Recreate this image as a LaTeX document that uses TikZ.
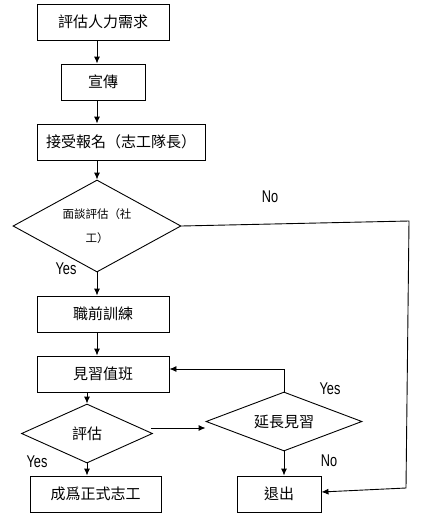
\documentclass[tikz,border=0pt]{standalone}
\usepackage{fontspec}
\newfontfamily\cjk{Noto Sans CJK TC}
\newfontfamily\latn[FakeStretch=0.75]{Liberation Sans}
\usetikzlibrary{arrows.meta,shapes.geometric}

\begin{document}
\begin{tikzpicture}[x=1pt,y=-1pt,
  box/.style={draw,line width=.9pt,minimum height=36,inner sep=0pt,font=\cjk\fontsize{15}{18}\selectfont},
  dec/.style={draw,diamond,aspect=2.2,inner sep=0pt,line width=.9pt,font=\cjk\fontsize{15}{18}\selectfont},
  lbl/.style={font=\latn\fontsize{17}{20}\selectfont,inner sep=0pt},
  arr/.style={-{Latex[length=7pt,width=6pt]},line width=.9pt}]
\useasboundingbox (0,0) rectangle (427,517);
% left column
\node[box,minimum width=132] (b1) at (103,22) {評估人力需求};
\node[box,minimum width=84] (b2) at (103,82) {宣傳};
\node[box,minimum width=168] (b3) at (121,142) {接受報名（志工隊長）};
\node[dec,minimum width=168,minimum height=92,align=center,font=\cjk\fontsize{11.5}{24}\selectfont] (d1) at (97,226) {面談評估（社\\工）};
\node[box,minimum width=132] (b4) at (103,314) {職前訓練};
\node[box,minimum width=132] (b5) at (103,374) {見習值班};
\node[dec,minimum width=131,minimum height=59] (d2) at (87,433.5) {評估};
\node[box,minimum width=131] (b6) at (95.5,494) {成爲正式志工};
% right column
\node[dec,minimum width=156,minimum height=59] (d3) at (284,421.5) {延長見習};
\node[box,minimum width=84] (b7) at (279,494) {退出};
\coordinate (c1) at (409,221);
\coordinate (c2) at (406,488);
\coordinate (m) at ([shift={(-2,-5.5)}]d2.east);
% connectors
\draw[arr] (b1.south -| d1.north) -- (b2.north -| d1.north);
\draw[arr] (b2.south -| d1.north) -- (b3.north -| d1.north);
\draw[arr] (b3.south -| d1.north) -- (d1.north);
\draw[arr] (d1.south) -- (b4.north -| d1.south);
\draw[arr] (b4.south -| d1.south) -- (b5.north -| d1.south);
\draw[arr] (b5.south -| d2.north) -- (d2.north);
\draw[arr] (d2.south) -- (b6.north -| d2.south);
\draw[arr] (m) -- (m -| d3.west);
\draw[arr] (d3.north) |- ([yshift=5pt]b5.east);
\draw[arr] (d3.south) -- (b7.north -| d3.south);
\draw[arr] (d1.east) -- (c1) -- (c2) -- ([yshift=2pt]b7.east);
% labels
\node[lbl] (y1) at (66,269) {Yes};
\node[lbl] (n1) at (270,197) {No};
\node[lbl] (y2) at (37,462) {Yes};
\node[lbl] (y3) at (330,389) {Yes};
\node[lbl] (n3) at (329,461) {No};
\end{tikzpicture}
\end{document}
